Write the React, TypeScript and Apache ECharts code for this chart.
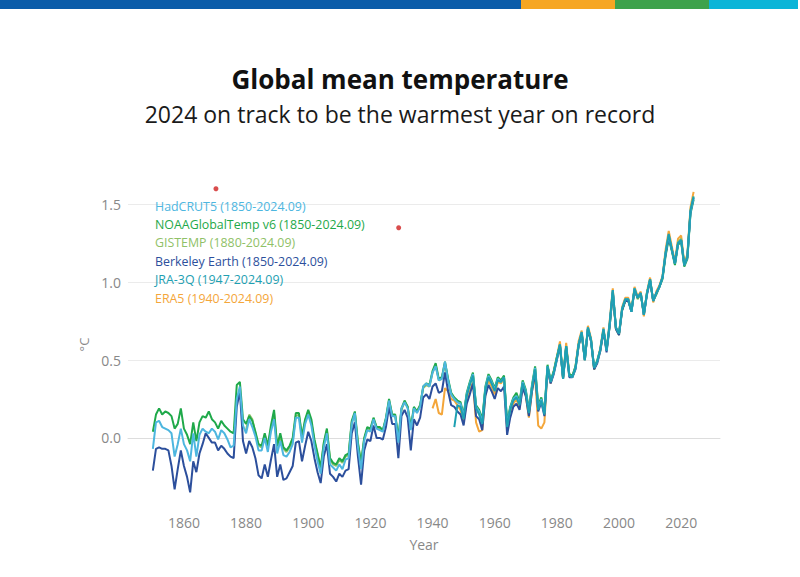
import React, { useEffect, useRef } from "react";
import * as echarts from "echarts";

// Annual global mean temperature anomalies (°C, relative to 1850–1900)
const hadcrutStart = 1850;
const hadcrut5 = [
  -0.07, 0.10, 0.11, 0.07, 0.06, 0.05, 0.03, -0.12, -0.04, 0.06,
  -0.04, -0.08, -0.15, 0.03, -0.12, 0.02, 0.06, 0.04, 0.03, 0.06,
  0.04, -0.01, 0.05, 0.03, -0.01, -0.06, -0.05, 0.25, 0.33, 0.08,
  0.03, 0.12, 0.07, 0.01, -0.08, -0.08, 0.00, -0.09, 0.04, 0.12,
  -0.10, -0.02, -0.11, -0.12, -0.09, -0.04, 0.13, 0.13, -0.03, 0.09,
  0.15, 0.08, -0.05, -0.15, -0.23, -0.06, 0.03, -0.17, -0.19, -0.21,
  -0.17, -0.20, -0.14, -0.13, 0.09, 0.16, -0.06, -0.20, -0.02, 0.05,
  0.04, 0.12, 0.06, 0.05, 0.04, 0.12, 0.24, 0.14, 0.14, -0.03,
  0.19, 0.23, 0.19, 0.05, 0.19, 0.16, 0.20, 0.33, 0.35, 0.33,
  0.42, 0.46, 0.37, 0.38, 0.49, 0.37, 0.28, 0.25, 0.23, 0.22,
  0.14, 0.28, 0.35, 0.41, 0.20, 0.17, 0.10, 0.32, 0.40, 0.36,
  0.31, 0.38, 0.36, 0.39, 0.08, 0.19, 0.25, 0.27, 0.22, 0.36,
  0.30, 0.17, 0.33, 0.45, 0.19, 0.25, 0.16, 0.46, 0.36, 0.42,
  0.51, 0.60, 0.38, 0.59, 0.40, 0.39, 0.45, 0.60, 0.68, 0.50,
  0.71, 0.63, 0.45, 0.49, 0.57, 0.70, 0.56, 0.73, 0.95, 0.71,
  0.67, 0.83, 0.89, 0.89, 0.81, 0.96, 0.90, 0.93, 0.79, 0.93,
  1.02, 0.88, 0.93, 0.97, 1.03, 1.19, 1.30, 1.21, 1.12, 1.25,
  1.27, 1.11, 1.16, 1.45, 1.54,
];

const noaaStart = 1850;
const noaaGlobalTemp = [
  0.04, 0.15, 0.19, 0.15, 0.17, 0.16, 0.14, 0.06, 0.09, 0.19,
  0.06, 0.02, -0.04, 0.10, -0.02, 0.10, 0.14, 0.13, 0.17, 0.12,
  0.10, 0.06, 0.11, 0.08, 0.06, 0.04, 0.03, 0.34, 0.36, 0.12,
  0.09, 0.14, 0.11, 0.04, -0.04, -0.05, 0.03, -0.05, 0.08, 0.18,
  -0.05, 0.03, -0.06, -0.08, -0.05, 0.00, 0.16, 0.16, 0.01, 0.12,
  0.18, 0.12, -0.01, -0.10, -0.19, -0.03, 0.06, -0.13, -0.16, -0.17,
  -0.13, -0.15, -0.11, -0.10, 0.11, 0.17, -0.03, -0.16, 0.00, 0.07,
  0.06, 0.13, 0.07, 0.07, 0.05, 0.13, 0.25, 0.15, 0.15, 0.00,
  0.19, 0.24, 0.20, 0.07, 0.20, 0.17, 0.21, 0.33, 0.35, 0.34,
  0.43, 0.48, 0.38, 0.39, 0.49, 0.38, 0.29, 0.26, 0.24, 0.23,
  0.15, 0.29, 0.36, 0.42, 0.21, 0.18, 0.12, 0.33, 0.41, 0.37,
  0.32, 0.39, 0.37, 0.40, 0.10, 0.20, 0.26, 0.29, 0.23, 0.37,
  0.31, 0.18, 0.34, 0.46, 0.21, 0.26, 0.17, 0.47, 0.37, 0.43,
  0.52, 0.60, 0.39, 0.59, 0.41, 0.40, 0.46, 0.60, 0.67, 0.51,
  0.70, 0.63, 0.45, 0.50, 0.57, 0.69, 0.57, 0.72, 0.93, 0.71,
  0.67, 0.82, 0.88, 0.88, 0.82, 0.95, 0.90, 0.92, 0.80, 0.93,
  1.01, 0.88, 0.92, 0.97, 1.02, 1.17, 1.28, 1.20, 1.11, 1.24,
  1.26, 1.10, 1.15, 1.44, 1.53,
];

const gistempStart = 1880;
const gistemp = [
  0.05, 0.15, 0.12, 0.03, -0.05, -0.06, 0.02, -0.06, 0.06, 0.16,
  -0.06, 0.01, -0.07, -0.09, -0.06, -0.02, 0.14, 0.15, 0.00, 0.11,
  0.17, 0.10, -0.02, -0.11, -0.20, -0.04, 0.05, -0.14, -0.17, -0.18,
  -0.14, -0.16, -0.12, -0.11, 0.10, 0.16, -0.04, -0.17, -0.01, 0.06,
  0.05, 0.12, 0.07, 0.06, 0.05, 0.12, 0.24, 0.15, 0.14, -0.01,
  0.18, 0.23, 0.20, 0.06, 0.19, 0.17, 0.21, 0.32, 0.34, 0.33,
  0.42, 0.47, 0.37, 0.38, 0.48, 0.37, 0.28, 0.25, 0.23, 0.22,
  0.14, 0.28, 0.35, 0.41, 0.20, 0.17, 0.11, 0.32, 0.40, 0.36,
  0.31, 0.38, 0.36, 0.39, 0.09, 0.19, 0.25, 0.28, 0.22, 0.36,
  0.30, 0.17, 0.33, 0.45, 0.20, 0.25, 0.16, 0.46, 0.36, 0.42,
  0.51, 0.59, 0.38, 0.58, 0.40, 0.39, 0.45, 0.59, 0.67, 0.50,
  0.70, 0.62, 0.44, 0.49, 0.56, 0.69, 0.56, 0.72, 0.94, 0.70,
  0.66, 0.82, 0.88, 0.88, 0.81, 0.96, 0.89, 0.93, 0.79, 0.93,
  1.02, 0.88, 0.93, 0.97, 1.03, 1.19, 1.30, 1.21, 1.12, 1.26,
  1.28, 1.12, 1.17, 1.46, 1.55,
];

const berkeleyStart = 1850;
const berkeleyEarth = [
  -0.21, -0.07, -0.06, -0.07, -0.07, -0.08, -0.18, -0.33, -0.20, -0.08,
  -0.18, -0.25, -0.35, -0.15, -0.22, -0.10, -0.04, 0.03, 0.00, -0.03,
  -0.03, -0.08, -0.05, -0.07, -0.10, -0.12, -0.13, 0.20, 0.30, -0.02,
  -0.10, -0.02, -0.06, -0.13, -0.24, -0.26, -0.17, -0.25, -0.14, -0.04,
  -0.25, -0.17, -0.27, -0.26, -0.22, -0.18, -0.03, -0.02, -0.15, -0.05,
  0.04, -0.02, -0.13, -0.22, -0.29, -0.12, -0.04, -0.23, -0.25, -0.28,
  -0.23, -0.25, -0.21, -0.20, 0.03, 0.10, -0.12, -0.30, -0.08, -0.01,
  -0.02, 0.08, 0.00, 0.00, -0.01, 0.07, 0.20, 0.09, 0.09, -0.13,
  0.14, 0.18, 0.13, -0.08, 0.12, 0.08, 0.13, 0.26, 0.28, 0.25,
  0.33, 0.35, 0.29, 0.30, 0.42, 0.30, 0.21, 0.20, 0.17, 0.15,
  0.08, 0.22, 0.28, 0.35, 0.14, 0.12, 0.05, 0.27, 0.34, 0.30,
  0.25, 0.32, 0.30, 0.33, 0.02, 0.13, 0.20, 0.22, 0.18, 0.32,
  0.27, 0.14, 0.30, 0.42, 0.17, 0.23, 0.14, 0.44, 0.35, 0.41,
  0.50, 0.59, 0.38, 0.58, 0.39, 0.39, 0.44, 0.59, 0.67, 0.50,
  0.70, 0.62, 0.44, 0.48, 0.56, 0.69, 0.55, 0.72, 0.94, 0.70,
  0.66, 0.82, 0.88, 0.88, 0.81, 0.95, 0.90, 0.93, 0.79, 0.92,
  1.01, 0.88, 0.93, 0.97, 1.03, 1.18, 1.29, 1.21, 1.12, 1.25,
  1.27, 1.11, 1.16, 1.45, 1.54,
];

const jraStart = 1947;
const jra3q = [
  0.07, 0.21, 0.20,
  0.12, 0.27, 0.34, 0.40, 0.19, 0.15, 0.09, 0.31, 0.39, 0.35,
  0.30, 0.37, 0.36, 0.39, 0.07, 0.18, 0.24, 0.26, 0.21, 0.35,
  0.29, 0.16, 0.32, 0.44, 0.18, 0.24, 0.15, 0.46, 0.36, 0.42,
  0.51, 0.60, 0.38, 0.59, 0.40, 0.39, 0.45, 0.60, 0.68, 0.50,
  0.71, 0.63, 0.45, 0.49, 0.57, 0.70, 0.56, 0.74, 0.95, 0.71,
  0.67, 0.83, 0.89, 0.89, 0.81, 0.96, 0.90, 0.93, 0.79, 0.93,
  1.02, 0.88, 0.93, 0.97, 1.03, 1.19, 1.31, 1.21, 1.12, 1.25,
  1.27, 1.11, 1.16, 1.46, 1.55,
];

const era5Start = 1940;
const era5 = [
  0.19, 0.25, 0.16, 0.15, 0.32, 0.30, 0.25, 0.24, 0.21, 0.18,
  0.10, 0.24, 0.30, 0.36, 0.10, 0.04, 0.05, 0.28, 0.37, 0.33,
  0.28, 0.36, 0.35, 0.38, 0.06, 0.16, 0.22, 0.25, 0.19, 0.34,
  0.27, 0.13, 0.30, 0.40, 0.08, 0.06, 0.10, 0.45, 0.35, 0.43,
  0.52, 0.62, 0.38, 0.61, 0.41, 0.39, 0.46, 0.62, 0.69, 0.50,
  0.72, 0.64, 0.44, 0.49, 0.58, 0.71, 0.56, 0.75, 0.96, 0.70,
  0.67, 0.84, 0.90, 0.90, 0.82, 0.97, 0.91, 0.94, 0.78, 0.94,
  1.03, 0.87, 0.94, 0.98, 1.04, 1.21, 1.33, 1.23, 1.13, 1.28,
  1.30, 1.12, 1.18, 1.48, 1.58,
];

// Two small red dots in the upper plot area: [year, °C]
const redDots = [
  [1870.3, 1.6],
  [1929.1, 1.35],
];

const yearTicks = [1860, 1880, 1900, 1920, 1940, 1960, 1980, 2000, 2020];
const tempTicks = [0, 0.5, 1.0, 1.5];

const NAMES = {
  hadcrut: "HadCRUT5 (1850-2024.09)",
  noaa: "NOAAGlobalTemp v6 (1850-2024.09)",
  gistemp: "GISTEMP (1880-2024.09)",
  berkeley: "Berkeley Earth (1850-2024.09)",
  jra: "JRA-3Q (1947-2024.09)",
  era5: "ERA5 (1940-2024.09)",
};

const COLORS = {
  hadcrut: "#4db6df",
  noaa: "#1fa94a",
  gistemp: "#8fc167",
  berkeley: "#2c4f9c",
  jra: "#1ea0b2",
  era5: "#f4a63a",
};

const FONT = "'Open Sans', Roboto, sans-serif";

const toPairs = (start: number, vals: number[]) =>
  vals.map((v, i) => [start + i, v]);

export default function App() {
  const ref = useRef<HTMLDivElement>(null);

  useEffect(() => {
    if (!ref.current) return;
    const chart = echarts.init(ref.current, null, { renderer: "svg" });

    const line = (key: keyof typeof NAMES, start: number, vals: number[]) => ({
      name: NAMES[key],
      type: "line",
      data: toPairs(start, vals),
      showSymbol: false,
      symbol: "none",
      lineStyle: { width: 2, color: COLORS[key] },
      itemStyle: { color: COLORS[key] },
      emphasis: { disabled: true },
    });

    const legendOrder: (keyof typeof NAMES)[] = [
      "hadcrut",
      "noaa",
      "gistemp",
      "berkeley",
      "jra",
      "era5",
    ];

    chart.setOption({
      animation: false,
      backgroundColor: "#ffffff",
      textStyle: { fontFamily: FONT },
      title: [
        {
          text: "Global mean temperature",
          left: "center",
          top: 61,
          textStyle: {
            fontFamily: FONT,
            fontSize: 26,
            fontWeight: "bold",
            color: "#111111",
          },
        },
        {
          text: "2024 on track to be the warmest year on record",
          left: "center",
          top: 97,
          textStyle: {
            fontFamily: FONT,
            fontSize: 23,
            fontWeight: "normal",
            color: "#1a1a1a",
          },
        },
      ],
      legend: {
        orient: "vertical",
        left: 150,
        top: 199,
        icon: "rect",
        itemWidth: 0,
        itemHeight: 14,
        itemGap: 4.4,
        selectedMode: false,
        padding: 0,
        data: legendOrder.map((k) => ({
          name: NAMES[k],
          textStyle: { color: COLORS[k], fontSize: 12.4, fontFamily: FONT },
        })),
      },
      grid: { left: 128, right: 80, top: 181, bottom: 69 },
      xAxis: {
        type: "value",
        min: 1842,
        max: 2032.5,
        name: "Year",
        nameLocation: "middle",
        nameGap: 29,
        nameTextStyle: { color: "#888888", fontSize: 14, fontFamily: FONT },
        axisLine: { show: true, lineStyle: { color: "#dddddd", width: 1 } },
        axisTick: { show: false, customValues: yearTicks },
        splitLine: { show: false },
        axisLabel: {
          customValues: yearTicks,
          color: "#888888",
          fontSize: 14,
          margin: 7,
          fontFamily: FONT,
          formatter: (v: number) => String(v),
        },
      },
      yAxis: {
        type: "value",
        min: -0.45,
        max: 1.65,
        name: "°C",
        nameLocation: "middle",
        nameGap: 15,
        nameRotate: 90,
        nameTextStyle: { color: "#888888", fontSize: 13, fontFamily: FONT },
        axisLine: { show: false },
        axisTick: { show: false, customValues: tempTicks },
        splitLine: { show: true, lineStyle: { color: "#ebebeb", width: 1 } },
        axisLabel: {
          customValues: tempTicks,
          color: "#888888",
          fontSize: 14,
          margin: 7,
          fontFamily: FONT,
          formatter: (v: number) => v.toFixed(1),
        },
      },
      graphic: [
        { type: "rect", shape: { x: 0, y: 0, width: 521, height: 9 }, style: { fill: "#0b5ca9" } },
        { type: "rect", shape: { x: 521, y: 0, width: 94, height: 9 }, style: { fill: "#f6a623" } },
        { type: "rect", shape: { x: 615, y: 0, width: 94, height: 9 }, style: { fill: "#3ea24b" } },
        { type: "rect", shape: { x: 709, y: 0, width: 89, height: 9 }, style: { fill: "#0bb5d8" } },
      ],
      series: [
        line("era5", era5Start, era5),
        line("gistemp", gistempStart, gistemp),
        line("noaa", noaaStart, noaaGlobalTemp),
        line("berkeley", berkeleyStart, berkeleyEarth),
        line("hadcrut", hadcrutStart, hadcrut5),
        line("jra", jraStart, jra3q),
        {
          name: "dots",
          type: "scatter",
          data: redDots,
          symbolSize: 5,
          itemStyle: { color: "#d02020" },
          silent: true,
        },
      ],
    });

    return () => chart.dispose();
  }, []);

  return (
    <div
      ref={ref}
      style={{
        position: "absolute",
        left: 0,
        top: 0,
        width: 800,
        height: 577,
        background: "#ffffff",
      }}
    />
  );
}
